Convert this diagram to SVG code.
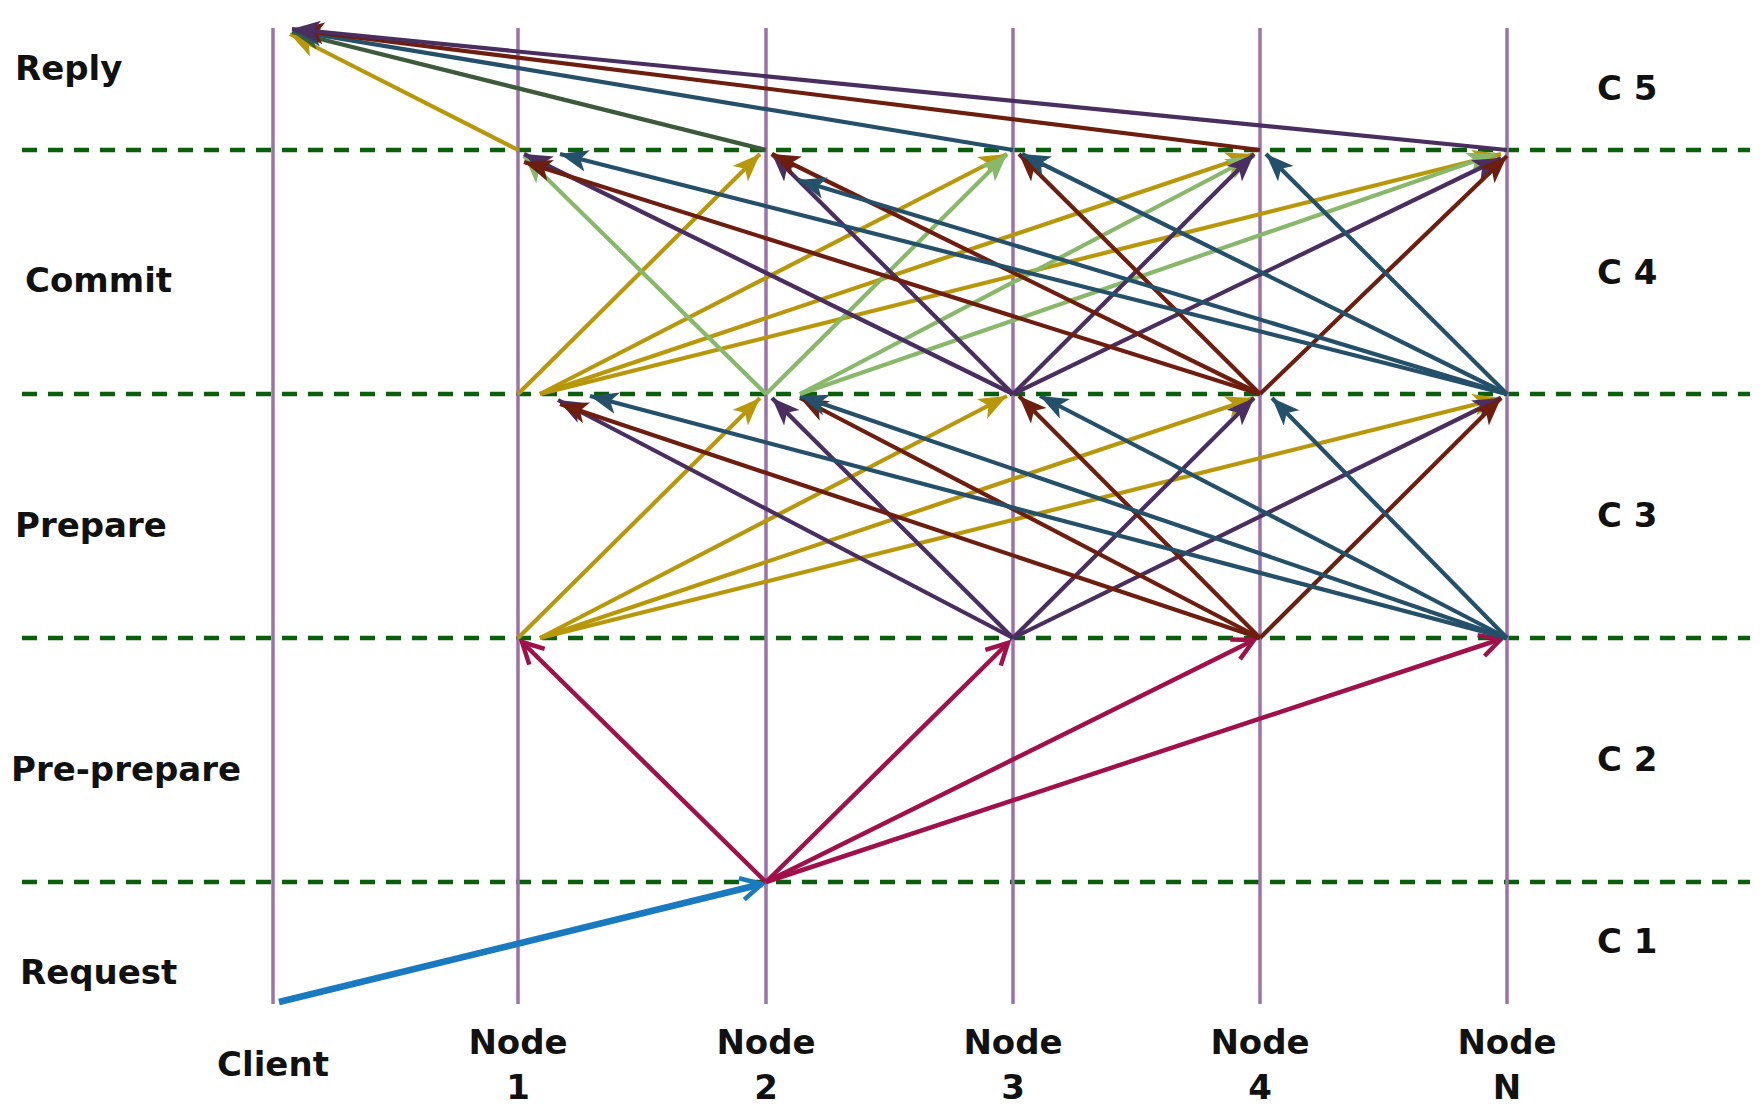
<svg xmlns="http://www.w3.org/2000/svg" width="1762" height="1116" viewBox="0 0 1762 1116">
<style>
.lbl{font-family:"DejaVu Sans",sans-serif;font-weight:bold;font-size:34px;fill:#111}
.mid{text-anchor:middle}
.life{stroke:#9b72aa;stroke-width:3.5}
.dash{stroke:#0b5e0b;stroke-width:4.5;stroke-dasharray:15 11}
.a{fill:none;stroke-width:4.2}
.gold{stroke:#b8980a;marker-end:url(#mGold)}
.pur{stroke:#4a2e60;marker-end:url(#mPur)}
.brn{stroke:#6e1e0e;marker-end:url(#mBrn)}
.teal{stroke:#25506a;marker-end:url(#mTeal)}
.grn{stroke:#88b86a;marker-end:url(#mGrn)}
.dgrn{stroke:#3d5a3a;marker-end:url(#mDgrn)}
.crim{stroke:#a0104a;stroke-width:4.5;marker-end:url(#mCrim)}
.blue{stroke:#1a7abf;stroke-width:6.5;marker-end:url(#mBlue)}
</style>
<defs>
<marker id="mGold" markerUnits="userSpaceOnUse" markerWidth="30" markerHeight="24" refX="28" refY="11" orient="auto"><path d="M0,0 L28,11 L0,22 L7,11 z" fill="#b8980a"/></marker>
<marker id="mPur" markerUnits="userSpaceOnUse" markerWidth="30" markerHeight="24" refX="28" refY="11" orient="auto"><path d="M0,0 L28,11 L0,22 L7,11 z" fill="#4a2e60"/></marker>
<marker id="mBrn" markerUnits="userSpaceOnUse" markerWidth="30" markerHeight="24" refX="28" refY="11" orient="auto"><path d="M0,0 L28,11 L0,22 L7,11 z" fill="#6e1e0e"/></marker>
<marker id="mTeal" markerUnits="userSpaceOnUse" markerWidth="30" markerHeight="24" refX="28" refY="11" orient="auto"><path d="M0,0 L28,11 L0,22 L7,11 z" fill="#25506a"/></marker>
<marker id="mGrn" markerUnits="userSpaceOnUse" markerWidth="30" markerHeight="24" refX="28" refY="11" orient="auto"><path d="M0,0 L28,11 L0,22 L7,11 z" fill="#88b86a"/></marker>
<marker id="mDgrn" markerUnits="userSpaceOnUse" markerWidth="30" markerHeight="24" refX="28" refY="11" orient="auto"><path d="M0,0 L28,11 L0,22 L7,11 z" fill="#3d5a3a"/></marker>
<marker id="mCrim" markerUnits="userSpaceOnUse" markerWidth="30" markerHeight="28" refX="25" refY="13" orient="auto"><path d="M4,2 L25,13 L4,24" fill="none" stroke="#a0104a" stroke-width="4.5"/></marker>
<marker id="mBlue" markerUnits="userSpaceOnUse" markerWidth="30" markerHeight="28" refX="25" refY="13" orient="auto"><path d="M4,2 L25,13 L4,24" fill="none" stroke="#1a7abf" stroke-width="4.5"/></marker>
</defs>
<g id="grid">
<line class="dash" x1="22" y1="150" x2="1750" y2="150"/>
<line class="dash" x1="22" y1="394" x2="1750" y2="394"/>
<line class="dash" x1="22" y1="638" x2="1750" y2="638"/>
<line class="dash" x1="22" y1="882" x2="1750" y2="882"/>
</g>
<g id="client"><line class="life" x1="273" y1="28" x2="273" y2="1004"/><text class="lbl mid" x="273" y="1076">Client</text></g>
<g id="node1"><line class="life" x1="518" y1="28" x2="518" y2="1004"/><text class="lbl mid" x="518" y="1054">Node</text><text class="lbl mid" x="518" y="1099">1</text></g>
<g id="node2"><line class="life" x1="766" y1="28" x2="766" y2="1004"/><text class="lbl mid" x="766" y="1054">Node</text><text class="lbl mid" x="766" y="1099">2</text></g>
<g id="node3"><line class="life" x1="1013" y1="28" x2="1013" y2="1004"/><text class="lbl mid" x="1013" y="1054">Node</text><text class="lbl mid" x="1013" y="1099">3</text></g>
<g id="node4"><line class="life" x1="1260" y1="28" x2="1260" y2="1004"/><text class="lbl mid" x="1260" y="1054">Node</text><text class="lbl mid" x="1260" y="1099">4</text></g>
<g id="nodeN"><line class="life" x1="1507" y1="28" x2="1507" y2="1004"/><text class="lbl mid" x="1507" y="1054">Node</text><text class="lbl mid" x="1507" y="1099">N</text></g>
<g id="phases">
<text class="lbl" x="15" y="80">Reply</text>
<text class="lbl" x="25" y="292">Commit</text>
<text class="lbl" x="15" y="537">Prepare</text>
<text class="lbl" x="11" y="781">Pre-prepare</text>
<text class="lbl" x="20" y="984">Request</text>
<text class="lbl" x="1597" y="100">C 5</text>
<text class="lbl" x="1597" y="284">C 4</text>
<text class="lbl" x="1597" y="527">C 3</text>
<text class="lbl" x="1597" y="771">C 2</text>
<text class="lbl" x="1597" y="953">C 1</text>
</g>
<g id="connectors">
<line class="a blue" x1="279" y1="1002" x2="762" y2="884"/>
<line class="a crim" x1="766" y1="882" x2="522" y2="642"/>
<line class="a crim" x1="766" y1="882" x2="1008" y2="643"/>
<line class="a crim" x1="766" y1="882" x2="1254" y2="640"/>
<line class="a crim" x1="766" y1="882" x2="1501" y2="639"/>
<line class="a gold" x1="518" y1="638" x2="760" y2="398"/>
<line class="a gold" x1="540" y1="638" x2="1007" y2="396"/>
<line class="a gold" x1="540" y1="638" x2="1254" y2="398"/>
<line class="a gold" x1="540" y1="638" x2="1501" y2="398"/>
<line class="a pur" x1="1013" y1="638" x2="558" y2="400"/>
<line class="a pur" x1="1013" y1="638" x2="772" y2="398"/>
<line class="a pur" x1="1013" y1="638" x2="1254" y2="398"/>
<line class="a pur" x1="1013" y1="638" x2="1501" y2="398"/>
<line class="a brn" x1="1260" y1="638" x2="560" y2="404"/>
<line class="a brn" x1="1260" y1="638" x2="800" y2="398"/>
<line class="a brn" x1="1260" y1="638" x2="1019" y2="396"/>
<line class="a brn" x1="1260" y1="638" x2="1501" y2="398"/>
<line class="a teal" x1="1507" y1="638" x2="590" y2="396"/>
<line class="a teal" x1="1507" y1="638" x2="800" y2="396"/>
<line class="a teal" x1="1507" y1="638" x2="1040" y2="396"/>
<line class="a teal" x1="1507" y1="638" x2="1272" y2="398"/>
<line class="a gold" x1="518" y1="394" x2="760" y2="154"/>
<line class="a gold" x1="540" y1="394" x2="1007" y2="154"/>
<line class="a gold" x1="540" y1="394" x2="1254" y2="154"/>
<line class="a gold" x1="540" y1="394" x2="1501" y2="154"/>
<line class="a grn" x1="766" y1="394" x2="524" y2="156"/>
<line class="a grn" x1="766" y1="394" x2="1007" y2="154"/>
<line class="a grn" x1="800" y1="394" x2="1254" y2="156"/>
<line class="a grn" x1="800" y1="394" x2="1495" y2="154"/>
<line class="a pur" x1="1013" y1="394" x2="524" y2="154"/>
<line class="a pur" x1="1013" y1="394" x2="772" y2="154"/>
<line class="a pur" x1="1013" y1="394" x2="1254" y2="154"/>
<line class="a pur" x1="1013" y1="394" x2="1501" y2="158"/>
<line class="a brn" x1="1260" y1="394" x2="524" y2="162"/>
<line class="a brn" x1="1260" y1="394" x2="772" y2="154"/>
<line class="a brn" x1="1260" y1="394" x2="1019" y2="154"/>
<line class="a brn" x1="1260" y1="394" x2="1507" y2="156"/>
<line class="a teal" x1="1507" y1="394" x2="560" y2="154"/>
<line class="a teal" x1="1507" y1="394" x2="798" y2="180"/>
<line class="a teal" x1="1507" y1="394" x2="1022" y2="154"/>
<line class="a teal" x1="1507" y1="394" x2="1266" y2="154"/>
<line class="a gold" x1="518" y1="150" x2="290" y2="34"/>
<line class="a dgrn" x1="766" y1="150" x2="292" y2="32"/>
<line class="a teal" x1="1013" y1="150" x2="294" y2="31"/>
<line class="a brn" x1="1260" y1="150" x2="296" y2="30"/>
<line class="a pur" x1="1507" y1="150" x2="292" y2="29"/>
</g>
</svg>
